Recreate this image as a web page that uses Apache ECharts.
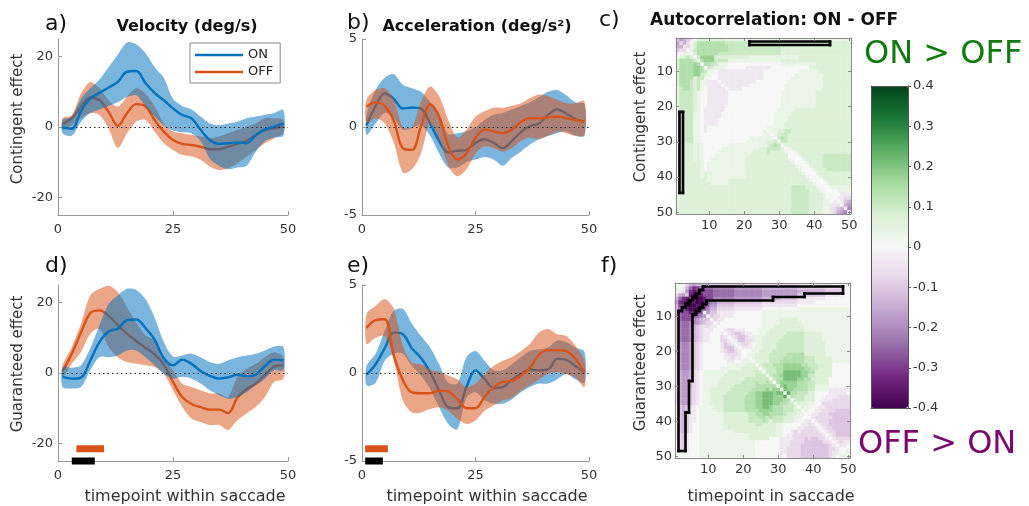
<!DOCTYPE html>
<html><head><meta charset="utf-8">
<script src="https://cdn.jsdelivr.net/npm/echarts@6/dist/echarts.min.js"></script>
<style>html,body{margin:0;padding:0;background:#fff;}#c{width:1029px;height:506px;}</style>
</head><body><div id="c"></div>
<script>
// ---------------- DATA ----------------
const T = [1,3,5,7,9,11,13,15,17,19,21,23,25,27,29,31,33,35,37,39,41,43,45,47,49];
const TIMEPOINTS = [1,2,3,4,5,6,7,8,9,10,11,12,13,14,15,16,17,18,19,20,21,22,23,24,25,26,27,28,29,30,31,32,33,34,35,36,37,38,39,40,41,42,43,44,45,46,47,48,49,50];
const X_TICKS = [0, 25, 50];
const Y_TICKS_VEL = [-20, 0, 20];
const Y_TICKS_ACC = [-5, 0, 5];

// a) velocity, contingent
const aOnMean = [-0.1,-0.5,4.5,8.1,9.7,11.2,12.8,15.7,15.9,12.5,9.7,7.6,5.3,3.4,2.5,-0.8,-3.7,-4.8,-4.6,-4.4,-4.6,-2.3,-0.7,0.1,1.0];
const aOnLo   = [-1.8,-2.5,1.5,4,5,6,7,8.5,9,6,3,0.5,-1,-1.5,-1.8,-4,-9,-11,-12,-11.5,-11,-7,-4,-3,-2.5];
const aOnHi   = [2.0,3.0,8,11,13.5,17,20.5,24,23.5,21,17,14,8,6,5,3,1,0.5,1,1.5,2.5,3,3.5,4,4.8];
const aOffMean= [0.8,2.5,5.8,8.4,7.6,4.3,0.3,3.9,6.5,5.9,2,-1.3,-3.7,-4.8,-5.1,-5.6,-6.3,-6.3,-5.6,-4.8,-3.9,-2.3,-0.8,-0.4,0.1];
const aOffLo  = [-0.8,0.6,2.5,3.9,3.4,-0.4,-6,-1.8,1.5,2,-1.3,-4.6,-6.5,-7.9,-8.4,-9.3,-11.2,-12.2,-11.7,-10.3,-8.4,-6.5,-4.6,-3.2,-1.8];
const aOffHi  = [2.5,3.4,9.5,12.8,11,7.6,5.8,8.6,11,9.5,5.8,1,-1.3,-1.8,-2.3,-2.7,-3.2,-2.7,-1.8,-0.8,0.1,1,2.5,2.5,2];

// b) acceleration, contingent
const bOnMean = [0.1,1.2,1.9,1.6,1.05,1.1,1.05,0.2,-0.8,-1.45,-1.35,-1.3,-0.9,-0.7,-0.9,-1.2,-0.8,-0.3,0.05,0.2,0.7,1.0,0.75,0.45,0.3];
const bOnLo   = [-0.45,0.2,0.8,0.5,-0.15,-0.05,0.1,-0.5,-1.5,-2.3,-2.3,-2.0,-1.85,-1.7,-1.85,-2.2,-1.75,-1.4,-1.0,-0.7,-0.5,-0.35,-0.25,-0.5,-0.5];
const bOnHi   = [0.7,2.1,2.8,3.0,2.4,2.2,2.0,1.4,0.6,-0.4,-0.35,-0.25,0,0.4,0.7,0.8,1.0,1.2,1.4,1.7,2.0,2.1,1.8,1.4,1.3];
const bOffMean= [1.15,1.4,1.2,0.35,-1.2,-1.3,0.05,1.3,0.6,-1.1,-1.85,-1.5,-0.6,-0.15,-0.25,-0.35,-0.15,0.3,0.5,0.5,0.55,0.6,0.5,0.4,0.3];
const bOffLo  = [0.2,0.5,0.2,-0.9,-2.6,-2.4,-1.5,0.2,-0.7,-2.2,-2.8,-2.4,-1.5,-1.1,-1.2,-1.4,-1.2,-0.8,-0.6,-0.7,-0.5,-0.25,-0.35,-0.5,-0.45];
const bOffHi  = [1.55,2.1,2.2,1.55,0,0,1.45,2.3,1.75,0.4,-0.6,-0.15,0.6,0.9,1.1,1.1,1.2,1.35,1.65,1.85,1.75,1.55,1.35,1.35,1.45];

// d) velocity, guaranteed
const dOnMean = [-1.1,-1.6,-1.3,3.5,8.8,11.8,12.6,15,15.2,12.8,9.5,4.2,2.2,3.8,2.6,0.6,-0.8,-1.6,-1.2,-0.5,-0.9,-0.5,2.0,3.8,3.6];
const dOnLo   = [-4,-4.4,-4,0.8,4.5,4.5,5,6.4,6.4,4.5,2.2,-0.2,-1.6,-1.1,-1.6,-3,-4.9,-6.3,-7.3,-6.8,-5.4,-3.5,-1.6,0.8,0.8];
const dOnHi   = [1.7,1.5,2.2,7,13.5,19.6,22,23.9,23.6,21,15.8,8.8,4.7,5,5.5,4.5,3.1,2.6,3.6,4.5,5,5.5,6.4,7.5,7.4];
const dOffMean= [0.5,5.5,11.5,17,17.8,16.3,13.6,11.2,9.1,7.2,5.3,2.4,-2.5,-6.8,-8.8,-9.7,-10.4,-10.4,-11.4,-7,-4.6,-3,-0.5,1.8,2.2];
const dOffLo  = [-1.1,2.6,6,11.1,12.5,7.4,4.5,3.1,2.6,2.2,1.7,-0.2,-4.9,-9.6,-12.9,-13.9,-14.8,-14.8,-16.2,-13.4,-11.5,-9.6,-6.8,-2.5,-1.6];
const dOffHi  = [2.2,7.4,14,22,23.9,24.8,23,18.7,14.4,10.7,9.2,4.5,0.75,-3,-4,-4.9,-5.8,-5.8,-6.8,-1.1,1.2,2.6,4.5,5.9,4.5];
const dSigOff = [4, 10];
const dSigDiff = [3, 8];

// e) acceleration, guaranteed
const eOnMean = [-0.1,0.5,1.4,2.3,2.2,1.4,0.85,0.05,-1.0,-1.95,-2.0,-0.8,0.15,-0.35,-0.85,-0.8,-0.4,-0.05,0.2,0.15,0.2,0.8,0.75,0.4,0.05];
const eOnLo   = [-0.7,-0.55,0.7,1.1,1.1,0.4,-0.15,-0.9,-1.95,-2.9,-3.2,-1.4,-1.1,-1.55,-1.75,-1.75,-1.5,-1.1,-0.8,-0.6,-0.6,-0.35,-0.05,-0.35,-0.55];
const eOnHi   = [0.4,1.1,2.4,3.55,3.65,2.8,2.1,1.45,0.5,-0.55,-0.6,0.9,1.25,0.7,0.15,0.15,0.5,0.9,1.25,1.35,1.45,1.85,1.75,1.45,1.2];
const eOffMean= [2.55,3.0,3.05,1.0,-0.4,-1.1,-1.15,-1.15,-1.0,-1.05,-1.5,-2.0,-2.0,-1.35,-0.8,-0.5,-0.45,-0.15,0.3,1.05,1.3,1.3,1.25,0.8,0.05];
const eOffLo  = [1.65,2.0,2.1,0.7,-1.55,-2.25,-2.25,-2.05,-1.95,-2.15,-2.6,-2.9,-2.7,-2.15,-1.85,-1.55,-1.4,-1.0,-0.7,-0.35,-0.05,0.05,-0.05,-0.25,-0.8];
const eOffHi  = [3.35,3.8,4.2,3.65,1.55,0.6,0.5,0.2,0.05,-0.15,-0.35,-0.8,-0.6,-0.05,0.4,0.7,0.9,1.25,1.65,2.3,2.5,2.2,2.1,1.55,0.7];
const eSigOff = [0.7, 5.7];
const eSigDiff = [0.7, 4.6];

// c), f) autocorrelation difference, upper triangle rows (row r: columns r..50),
// run-length coded: letter = level ('m' = 0, step 0.035 per letter), number = run length
const heatC = [
"j1h1i1j1l1m1o8n36","k1i1k1m1o1q8p16o20","l1k1n1o1q9p15o20","m1n1p1q9p15o20","m1o1q6p18o20",
"m1p1r4o10n14o15","m1q1r3p4n15o20","m1q1q1p2n3m15n10o10","m1p1o1n3m6l7m11o12","m1n1m1l13m10n6o9",
"m1m1l13m9n8o8","m1l13m8n9o8","m1l10m9n10o8","m1l7m10n11o8","m1l4m12n11o8",
"m1m14n10o10","m1m13n10o10","m1m12n10o10","m1m11n10o10","m1m10n10o10",
"m1m8n5o8o8","m1m6n5o9o8","m1m5n4o10o8","m1m4n4o10o8","m1m3n3o3o16",
"m1n2n3o19","m1n2o2p2o17","m1n1o1p2o18","m1p1q1p1o18","m1p1p1o18",
"m1o1o18","m1n1o17","m1m1n1o15","m1m1n1o6p8","m1m1n1o5p8",
"m1m1n1o4p8","m1m1n1o3p8","m1m1n1o3p7","m1m1n1o3o6","m1m1n1o8",
"m1m1n1o7","m1m1n1o6","m1m1n1n5","m1m1m1n4","m1m1m1l3",
"m1l1l1k2","m1l1j1i1","m1i1h1","m1g1","m1"];
const heatF = [
"m1n1m1k1i1h1i4j10k15l10m5","m1l1i1f1d1e1f4g6h8i10j8k5m2","l1h1d1c1d1e4f6g8h10i8j5m2","j1c1b1b1c1e3f6g8h10j8l5m2","d1a1a1b1c1e2g6h8i5j5l8m7",
"c1a1b1c1e1g2i5j8k10l5m10","c1b1d1f1h2j5k8l10m15","d1e1g1i2k5l8m10n15","m1h1j2l5m8n10n15","m1j1k2l4m8n10n15",
"m1k1l2m11n5o5n15","m1l1m12n5o6n14","m1m12n3o9n13","m1l1k2l3m4n3o10n13","m1l1k1j2k1l2m2n2o6p5o5n8",
"m1l1k1j2k1l2n2o6p6o5n8","m1l1j2k2l1n2o5p7o5n8","m1l1k2l1m1n2o4p8o6n7","m1l1l2m1n2o4p8o6n7","m1m2n2o4p9o6n7",
"m1n2o4p5q5o6n7","m1n1o4p4q6p3o5n5","m1o1o3p3q7p3o5n5","m1o1p3q3r5q2p3o4m5","m1o1p3q2r6q2p2o4m5",
"m1p1p2q2s5r2q2o5m5","m1p1q2r1s5r2p2o5m5","m1p1q2s4r2q2o5m6","m1q1r1r4q3p2o4m6","m1r1s1r3q3p2n4m6",
"m1s1r2q4p2n4l6","m1t1q2p3o2m4l5m1","m1q1p3o3m3l4k3","m1p1p2o3m2l3k5","m1o1o2n2m2k4k4",
"m1o1n2m2l2k7","m1n1m2l2k4j4","m1m1l2k3j6","m1l1k2k3j5","m1l1k3j6",
"m1l1k2j6","m1l1k2j5","m1l1k2j4","m1l1k1j4","m1l1k1k3",
"m1l1k1l2","m1l1l1m1","m1m1n1","m1n1","m1"];
// significant clusters: [row, firstCol, lastCol] (mirrored across diagonal)
const sigC = [[2, 22, 44]];
const sigF = [[2, 9, 48], [3, 8, 48], [4, 7, 37], [5, 6, 28], [6, 6, 9], [7, 7, 8]];
const COLORBAR_RANGE = [-0.4, 0.4];

// ---------------- STYLE ----------------
const FF = '"DejaVu Sans", sans-serif';
const BLUE = '#0072BD', ORANGE = '#D95319';
const BLUE_BAND = 'rgba(0,114,189,0.52)', ORANGE_BAND = 'rgba(217,83,25,0.52)';
const AX = '#9a9a9a', TXT = '#333';
const PRGN = ['#40004b','#762a83','#9970ab','#c2a5cf','#e7d4e8','#f7f7f7','#d9f0d3','#a6dba0','#5aae61','#1b7837','#00441b'];
const N = TIMEPOINTS.length;
const LEVEL_STEP = 0.035;

// ---------------- HELPERS ----------------
function decodeRow(s, len) {
  const out = [];
  s.replace(/([a-z])(\d*)/g, (m, ch, n) => {
    const k = n ? parseInt(n, 10) : 1;
    const v = (ch.charCodeAt(0) - 109) * LEVEL_STEP;
    for (let i = 0; i < k; i++) out.push(v);
    return m;
  });
  while (out.length < len) out.push(out[out.length - 1]);
  return out.slice(0, len);
}
function buildMatrix(rows) {
  const M = TIMEPOINTS.map(() => TIMEPOINTS.map(() => 0));
  rows.forEach((s, r) => {
    const vals = decodeRow(s, N - r);
    vals.forEach((v, k) => { M[r][r + k] = v; M[r + k][r] = v; });
  });
  return M;
}
function heatData(M) {
  const d = [];
  M.forEach((row, r) => row.forEach((v, c) => d.push([c, r, +v.toFixed(3)])));
  return d;
}
function buildMask(sig) {
  const S = TIMEPOINTS.map(() => TIMEPOINTS.map(() => false));
  sig.forEach(([r, c0, c1]) => { for (let c = c0; c <= c1; c++) { S[r-1][c-1] = true; S[c-1][r-1] = true; } });
  return S;
}
// boundary segments of the significant region: [start, end, orient(0=horizontal,1=vertical), boundaryIndex]
function contourSegs(S) {
  const at = (r, c) => r >= 0 && r < N && c >= 0 && c < N && S[r][c];
  const segs = [];
  for (let b = 0; b <= N; b++) {
    let start = -1;
    for (let c = 0; c <= N; c++) {
      const e = c < N && (at(b - 1, c) !== at(b, c));
      if (e && start < 0) start = c;
      if (!e && start >= 0) { segs.push([start, c - 1, 0, b]); start = -1; }
    }
    start = -1;
    for (let r = 0; r <= N; r++) {
      const e = r < N && (at(r, b - 1) !== at(r, b));
      if (e && start < 0) start = r;
      if (!e && start >= 0) { segs.push([start, r - 1, 1, b]); start = -1; }
    }
  }
  return segs;
}
function renderContour(params, api) {
  const s0 = api.value(0), s1 = api.value(1), o = api.value(2), b = api.value(3);
  const sz = api.size([1, 1]); const w = sz[0], h = sz[1];
  const st = { stroke: '#000', lineWidth: 2.6, lineCap: 'square' };
  if (o === 0) {
    const ref = b < N ? b : N - 1;
    const y = api.coord([0, ref])[1] + (b < N ? -h / 2 : h / 2);
    const xa = api.coord([s0, 0])[0] - w / 2, xb = api.coord([s1, 0])[0] + w / 2;
    return { type: 'line', shape: { x1: xa, y1: y, x2: xb, y2: y }, style: st };
  }
  const ref = b < N ? b : N - 1;
  const x = api.coord([ref, 0])[0] + (b < N ? -w / 2 : w / 2);
  const ya = api.coord([0, s0])[1] - h / 2, yb = api.coord([0, s1])[1] + h / 2;
  return { type: 'line', shape: { x1: x, y1: ya, x2: x, y2: yb }, style: st };
}

const series = [];
function addBand(ai, lo, hi, color, z) {
  series.push({ type: 'custom', xAxisIndex: ai, yAxisIndex: ai, z: z, silent: true, clip: true,
    data: T.map((t, i) => [t, lo[i], hi[i]]), encode: { x: 0, y: [1, 2] },
    renderItem: (params, api) => {
      if (params.dataIndexInside !== 0) return null;
      const up = [], dn = [];
      for (let i = 0; i < T.length; i++) {
        up.push(api.coord([api.value(0, i), api.value(2, i)]));
        dn.push(api.coord([api.value(0, i), api.value(1, i)]));
      }
      return { type: 'polygon', shape: { points: up.concat(dn.reverse()), smooth: 0.3 }, style: { fill: color } };
    } });
}
function addMean(ai, name, arr, color, z, zero) {
  const s = { type: 'line', name: name, xAxisIndex: ai, yAxisIndex: ai, data: T.map((t, i) => [t, arr[i]]), symbol: 'none', smooth: 0.35,
    color: color, lineStyle: { width: 2.4, color: color }, z: z, silent: true };
  if (zero) s.markLine = { silent: true, symbol: ['none', 'none'], label: { show: false },
    lineStyle: { type: [1.5, 3], color: '#222', width: 1 }, data: [{ yAxis: 0 }] };
  series.push(s);
}
function addLinePanel(ai, onM, onL, onH, offM, offL, offH, orangeTop) {
  if (orangeTop) {
    addBand(ai, onL, onH, BLUE_BAND, 2); addMean(ai, 'ON', onM, BLUE, 3, false);
    addBand(ai, offL, offH, ORANGE_BAND, 4); addMean(ai, 'OFF', offM, ORANGE, 5, true);
  } else {
    addBand(ai, offL, offH, ORANGE_BAND, 2); addMean(ai, 'OFF', offM, ORANGE, 3, false);
    addBand(ai, onL, onH, BLUE_BAND, 4); addMean(ai, 'ON', onM, BLUE, 5, true);
  }
}
function addSigBar(ai, range, yLevel, color) {
  series.push({ type: 'line', xAxisIndex: ai, yAxisIndex: ai, data: [[range[0], yLevel], [range[1], yLevel]],
    symbol: 'none', clip: false, silent: true, z: 8, lineStyle: { width: 7, color: color, cap: 'butt' } });
}

addLinePanel(0, aOnMean, aOnLo, aOnHi, aOffMean, aOffLo, aOffHi, false);
addLinePanel(1, bOnMean, bOnLo, bOnHi, bOffMean, bOffLo, bOffHi, true);
addLinePanel(4, dOnMean, dOnLo, dOnHi, dOffMean, dOffLo, dOffHi, false);
addLinePanel(5, eOnMean, eOnLo, eOnHi, eOffMean, eOffLo, eOffHi, true);
addSigBar(4, dSigOff, -21.5, ORANGE);
addSigBar(4, dSigDiff, -25, '#000');
addSigBar(5, eSigOff, -4.3, ORANGE);
addSigBar(5, eSigDiff, -5, '#000');

series.push({ type: 'heatmap', xAxisIndex: 2, yAxisIndex: 2, data: heatData(buildMatrix(heatC)), emphasis: { disabled: true }, silent: true, z: 2 });
const idxC = series.length - 1;
series.push({ type: 'heatmap', xAxisIndex: 6, yAxisIndex: 6, data: heatData(buildMatrix(heatF)), emphasis: { disabled: true }, silent: true, z: 2 });
const idxF = series.length - 1;
series.push({ type: 'custom', xAxisIndex: 2, yAxisIndex: 2, data: contourSegs(buildMask(sigC)), renderItem: renderContour, silent: true, z: 6, encode: { x: 0, y: 1 } });
series.push({ type: 'custom', xAxisIndex: 6, yAxisIndex: 6, data: contourSegs(buildMask(sigF)), renderItem: renderContour, silent: true, z: 6, encode: { x: 0, y: 1 } });

// ---------------- AXES ----------------
const CATS = TIMEPOINTS.map(String);
const every10 = (i) => (i + 1) % 10 === 0;
const lab = { color: TXT, fontSize: 13, fontFamily: FF };
function lineX(gi) {
  return { type: 'value', gridIndex: gi, min: 0, max: 50, z: 6,
    axisLine: { show: true, onZero: false, lineStyle: { color: AX } },
    axisTick: { show: true, inside: true, length: 4, customValues: X_TICKS, lineStyle: { color: AX } },
    axisLabel: Object.assign({ margin: 8, customValues: X_TICKS }, lab), splitLine: { show: false } };
}
function lineY(gi, lim, ticks) {
  return { type: 'value', gridIndex: gi, min: -lim, max: lim, z: 6,
    axisLine: { show: true, onZero: false, lineStyle: { color: AX } },
    axisTick: { show: true, inside: true, length: 4, customValues: ticks, lineStyle: { color: AX } },
    axisLabel: Object.assign({ margin: 5, customValues: ticks }, lab), splitLine: { show: false } };
}
function hmX(gi, pos, show) {
  return { type: 'category', gridIndex: gi, data: CATS, position: pos, z: 7,
    axisLine: { show: true, lineStyle: { color: '#8a8a8a' } },
    axisTick: { show: true, inside: true, alignWithLabel: true, interval: every10, length: 3, lineStyle: { color: '#8a8a8a' } },
    axisLabel: Object.assign({ show: show, interval: every10, margin: 5 }, lab), splitLine: { show: false } };
}
function hmY(gi, pos, show) {
  return { type: 'category', gridIndex: gi, data: CATS, position: pos, inverse: true, z: 7,
    axisLine: { show: true, lineStyle: { color: '#8a8a8a' } },
    axisTick: { show: true, inside: true, alignWithLabel: true, interval: every10, length: 3, lineStyle: { color: '#8a8a8a' } },
    axisLabel: Object.assign({ show: show, interval: every10, margin: 3 }, lab), splitLine: { show: false } };
}
function cbX(pos) {
  return { type: 'value', gridIndex: 6, min: 0, max: 1, position: pos, z: 10,
    axisLine: { show: true, onZero: false, lineStyle: { color: '#555' } }, axisTick: { show: false }, axisLabel: { show: false }, splitLine: { show: false } };
}
const xAxis = [lineX(0), lineX(1), hmX(2, 'bottom', true), hmX(2, 'top', false), lineX(3), lineX(4),
  hmX(5, 'bottom', true), hmX(5, 'top', false), cbX('bottom'), cbX('top')];
const yAxis = [lineY(0, 25, Y_TICKS_VEL), lineY(1, 5, Y_TICKS_ACC), hmY(2, 'left', true), hmY(2, 'right', false),
  lineY(3, 25, Y_TICKS_VEL), lineY(4, 5, Y_TICKS_ACC), hmY(5, 'left', true), hmY(5, 'right', false),
  { type: 'value', gridIndex: 6, position: 'left', min: COLORBAR_RANGE[0], max: COLORBAR_RANGE[1], z: 10,
    axisLine: { show: true, onZero: false, lineStyle: { color: '#555' } }, axisTick: { show: false }, axisLabel: { show: false }, splitLine: { show: false } },
  { type: 'value', gridIndex: 6, position: 'right', min: COLORBAR_RANGE[0], max: COLORBAR_RANGE[1], interval: 0.1, z: 10,
    axisLine: { show: true, onZero: false, lineStyle: { color: '#555' } },
    axisTick: { show: true, length: 3, lineStyle: { color: '#555' } },
    axisLabel: Object.assign({ margin: 5, formatter: (v) => String(+v.toFixed(1)) }, lab), splitLine: { show: false } }];

const grid = [
  { left: 58, top: 39, width: 230, height: 176 },
  { left: 362, top: 39, width: 227, height: 176 },
  { left: 676, top: 38, width: 175, height: 176 },
  { left: 58, top: 285, width: 230, height: 176 },
  { left: 362, top: 285, width: 227, height: 176 },
  { left: 675, top: 283, width: 175, height: 175 },
  { left: 871, top: 86, width: 37, height: 322 }
];

function txt(x, y, text, font, color, align, rot) {
  return { type: 'text', x: x, y: y, rotation: rot || 0, silent: true, z: 20,
    style: { text: text, font: font, fill: color, textAlign: align || 'center', textVerticalAlign: 'middle' } };
}
const graphic = [
  txt(45, 24, 'a)', '22px ' + FF, '#111', 'left'),
  txt(347, 23, 'b)', '22px ' + FF, '#111', 'left'),
  txt(599, 20, 'c)', '22px ' + FF, '#111', 'left'),
  txt(45, 266, 'd)', '22px ' + FF, '#111', 'left'),
  txt(347, 266, 'e)', '22px ' + FF, '#111', 'left'),
  txt(601, 266, 'f)', '22px ' + FF, '#111', 'left'),
  txt(187, 27, 'Velocity (deg/s)', 'bold 16px ' + FF, '#111'),
  txt(477, 27, 'Acceleration (deg/s²)', 'bold 16px ' + FF, '#111'),
  txt(650, 21, 'Autocorrelation: ON - OFF', 'bold 17px ' + FF, '#111', 'left'),
  txt(18.5, 119, 'Contingent effect', '15px ' + FF, TXT, 'center', Math.PI / 2),
  txt(18.5, 364, 'Guaranteed effect', '15px ' + FF, TXT, 'center', Math.PI / 2),
  txt(641.5, 117, 'Contingent effect', '15px ' + FF, TXT, 'center', Math.PI / 2),
  txt(641.5, 363, 'Guaranteed effect', '15px ' + FF, TXT, 'center', Math.PI / 2),
  txt(185, 497, 'timepoint within saccade', '16px ' + FF, TXT),
  txt(487, 497, 'timepoint within saccade', '16px ' + FF, TXT),
  txt(771, 497, 'timepoint in saccade', '16px ' + FF, TXT),
  txt(864, 55, 'ON > OFF', '32px ' + FF, '#137a13', 'left'),
  txt(858, 445, 'OFF > ON', '32px ' + FF, '#7a0a6c', 'left')
];

const option = {
  animation: false,
  backgroundColor: '#fff',
  textStyle: { fontFamily: FF },
  grid: grid, xAxis: xAxis, yAxis: yAxis, series: series, graphic: graphic,
  legend: { data: ['ON', 'OFF'], orient: 'vertical', left: 190, top: 43, selectedMode: false, z: 20,
    icon: 'rect', itemWidth: 48, itemHeight: 2.5, itemGap: 3, padding: [5, 7, 4, 5],
    borderColor: '#888', borderWidth: 1, backgroundColor: '#fff',
    textStyle: { fontSize: 13, lineHeight: 14, color: '#222', fontFamily: FF } },
  visualMap: { type: 'continuous', min: -0.4, max: 0.4, seriesIndex: [idxC, idxF], calculable: false, hoverLink: false,
    left: 871, top: 86, itemWidth: 37, itemHeight: 322, padding: 0, inRange: { color: PRGN } }
};
const chart = echarts.init(document.getElementById('c'), null, { renderer: 'canvas' });
chart.setOption(option);
</script></body></html>
